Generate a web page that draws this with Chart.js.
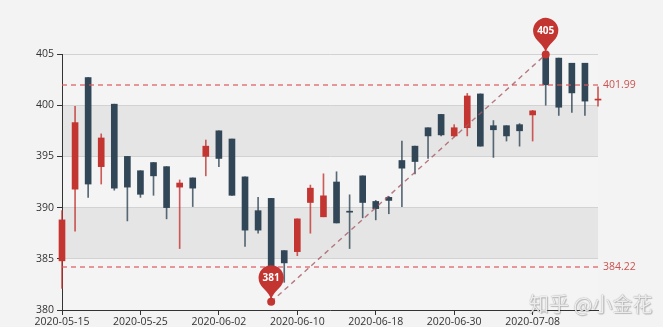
<!DOCTYPE html>
<html>
<head>
<meta charset="utf-8">
<script src="https://cdn.jsdelivr.net/npm/chart.js@4"></script>
<style>
  html,body{margin:0;padding:0;background:#fff;}
  #wrap{position:relative;width:663px;height:327px;background:#f3f3f3;overflow:hidden;}
  #chart{display:block;}
  .mark{position:absolute;left:529px;top:294px;font:20px/20px "Noto Sans CJK SC",sans-serif;color:rgba(255,255,255,.85);
        text-shadow:0 0 1px rgba(0,0,0,.5),1px 1px 1px rgba(0,0,0,.2);white-space:nowrap;}
</style>
</head>
<body>
<div id="wrap">
  <canvas id="chart" width="663" height="327"></canvas>
  <div class="mark">知乎 @小金花</div>
</div>
<script>
(function(){
  // Data (open / close / lowest / highest per trading day)
  const dates = ['2020-05-15','2020-05-18','2020-05-19','2020-05-20','2020-05-21','2020-05-22','2020-05-25',
    '2020-05-26','2020-05-27','2020-05-28','2020-05-29','2020-06-01','2020-06-02','2020-06-03','2020-06-04',
    '2020-06-05','2020-06-08','2020-06-09','2020-06-10','2020-06-11','2020-06-12','2020-06-15','2020-06-16',
    '2020-06-17','2020-06-18','2020-06-19','2020-06-22','2020-06-23','2020-06-24','2020-06-29','2020-06-30',
    '2020-07-01','2020-07-02','2020-07-03','2020-07-06','2020-07-07','2020-07-08','2020-07-09','2020-07-10',
    '2020-07-13','2020-07-14','2020-07-15'];
  const opens  = [384.8,391.8,402.7,394.0,400.1,395.0,393.6,394.4,394.0,392.0,392.9,395.0,397.5,396.7,393.0,
    389.7,390.9,385.8,385.7,390.5,389.1,392.5,389.65,393.1,390.6,391.0,394.6,396.0,397.8,399.1,397.0,
    397.8,401.1,398.0,398.0,398.1,399.05,404.8,404.6,404.1,404.1,400.5];
  const closes = [388.8,398.3,392.3,396.8,391.9,392.0,391.3,393.1,390.0,392.4,391.9,396.0,394.8,391.2,387.8,
    387.8,384.22,384.6,388.9,391.9,391.15,388.5,389.55,390.5,389.9,390.7,393.85,394.5,397.0,397.1,397.8,
    400.9,396.0,397.6,397.0,397.5,399.45,401.99,399.8,401.2,400.4,400.6];
  const lows   = [382.1,387.7,391.0,392.3,391.7,388.7,391.0,391.2,388.9,386.0,390.1,393.1,394.0,391.2,386.2,
    387.5,380.8,382.7,385.3,387.5,389.1,388.5,386.0,389.0,388.8,389.4,390.1,393.3,394.8,397.0,396.9,
    397.0,396.0,394.9,396.5,396.0,396.5,400.0,399.0,399.3,399.0,399.9];
  const highs  = [389.7,399.9,402.7,397.2,400.1,395.0,393.6,394.4,394.0,392.7,392.9,396.6,397.5,396.7,393.0,
    391.0,390.9,385.8,388.9,392.2,393.3,393.5,391.25,393.1,390.7,391.1,396.5,396.0,397.8,399.1,398.1,
    401.15,401.1,398.5,398.0,398.2,399.5,404.95,404.6,404.1,404.1,401.8];
  const yTicks = [380, 385, 390, 395, 400, 405];

  const UP = '#c23531', DOWN = '#314656';
  const FONT = '"Open Sans", sans-serif';
  const isUp = i => closes[i] >= opens[i];

  // alternating bands behind the grid
  const splitArea = {
    id:'splitArea',
    beforeDraw(chart){
      const {ctx, chartArea:a, scales:{y}} = chart;
      ctx.save();
      for(let k=0;k<yTicks.length-1;k++){
        const top = y.getPixelForValue(yTicks[k+1]), bot = y.getPixelForValue(yTicks[k]);
        ctx.fillStyle = k%2 ? 'rgba(200,200,200,0.3)' : 'rgba(250,250,250,0.3)';
        ctx.fillRect(a.left, top, a.right-a.left, bot-top);
      }
      ctx.restore();
    }
  };

  // pin marker (same geometry as the echarts 'pin' symbol)
  function pin(ctx, px, py, size, text){
    const w = size/5*3, h = size, r = w/2;
    const dy = r*r/(h-r), cy = py - h + r + dy;
    const ang = Math.asin(dy/r), dx = Math.cos(ang)*r;
    const tx = Math.sin(ang), ty = Math.cos(ang);
    const c1 = r*0.6, c2 = r*0.7;
    ctx.beginPath();
    ctx.moveTo(px-dx, cy+dy);
    ctx.arc(px, cy, r, Math.PI-ang, Math.PI*2+ang);
    ctx.bezierCurveTo(px+dx-tx*c1, cy+dy+ty*c1, px, py-c2, px, py);
    ctx.bezierCurveTo(px, py-c2, px-dx+tx*c1, cy+dy+ty*c1, px-dx, cy+dy);
    ctx.closePath();
    ctx.fillStyle = UP; ctx.fill();
    ctx.fillStyle = '#fff';
    ctx.font = 'bold 10px '+FONT;
    ctx.textAlign = 'center'; ctx.textBaseline = 'middle';
    ctx.fillText(text, px, cy+0.5);
  }

  // mark lines + mark points
  const marks = {
    id:'marks',
    afterDatasetsDraw(chart){
      const {ctx, chartArea:a, scales:{x,y}} = chart;
      const maxC = Math.max(...closes), minC = Math.min(...closes);
      const lo = Math.min(...lows), hi = Math.max(...highs);
      const p1 = {x:x.getPixelForValue(lows.indexOf(lo)), y:y.getPixelForValue(lo)};
      const p2 = {x:x.getPixelForValue(highs.indexOf(hi)), y:y.getPixelForValue(hi)};
      ctx.save();
      ctx.lineWidth = 1.6;
      ctx.setLineDash([5,4]);
      [maxC, minC].forEach(v=>{
        const py = Math.round(y.getPixelForValue(v));
        ctx.strokeStyle = 'rgba(215,85,90,0.8)';
        ctx.beginPath(); ctx.moveTo(a.left, py); ctx.lineTo(a.right, py); ctx.stroke();
        ctx.fillStyle = 'rgba(194,53,49,0.85)';
        ctx.font = '10.5px '+FONT;
        ctx.textAlign = 'left'; ctx.textBaseline = 'middle';
        ctx.fillText(v.toFixed(2), a.right+5, py);
      });
      ctx.lineWidth = 1.4;
      ctx.strokeStyle = 'rgba(165,90,100,0.8)';
      ctx.beginPath(); ctx.moveTo(p1.x, p1.y); ctx.lineTo(p2.x, p2.y); ctx.stroke();
      ctx.setLineDash([]);
      [p1,p2].forEach(p=>{
        ctx.fillStyle = UP;
        ctx.beginPath(); ctx.arc(p.x, p.y, 4, 0, Math.PI*2); ctx.fill();
      });
      pin(ctx, p2.x, p2.y, 42, String(Math.round(hi)));
      pin(ctx, p1.x, p1.y, 42, String(Math.round(lo)));
      ctx.restore();
    }
  };

  new Chart(document.getElementById('chart'), {
    type:'bar',
    data:{
      labels: dates,
      datasets:[
        { data: dates.map((d,i)=>[opens[i], closes[i]]),
          backgroundColor: dates.map((d,i)=> isUp(i) ? UP : DOWN),
          barThickness:6, minBarLength:1, grouped:false, clip:false },
        { data: dates.map((d,i)=>[lows[i], highs[i]]),
          backgroundColor: dates.map((d,i)=> isUp(i) ? 'rgba(194,53,49,0.8)' : 'rgba(49,70,86,0.8)'),
          barThickness:1, grouped:false, clip:false }
      ]
    },
    options:{
      responsive:false, animation:false,
      layout:{ padding:{ top:54, right:65, bottom:0, left:0 } },
      plugins:{ legend:{display:false}, tooltip:{enabled:false} },
      scales:{
        x:{
          offset:false,
          grid:{ offset:false, drawOnChartArea:false, tickLength:5, color: c => c.index%6===0 ? '#333' : 'transparent' },
          border:{ color:'#333' },
          ticks:{ autoSkip:false, maxRotation:0, padding:1, color:'#333', font:{family:FONT, size:10.5},
                  callback:(v,i)=> i%6===0 ? dates[i] : '' },
          afterFit: s=>{ s.height = 17; }
        },
        y:{
          min:380, max:405,
          ticks:{ stepSize:5, padding:3, color:'#333', font:{family:FONT, size:10.5} },
          grid:{ color:'#d2d2d2', tickColor:'#333', tickLength:5 },
          border:{ color:'#333' },
          afterFit: s=>{ s.width = 62; }
        }
      }
    },
    plugins:[splitArea, marks]
  });
})();
</script>
</body>
</html>
